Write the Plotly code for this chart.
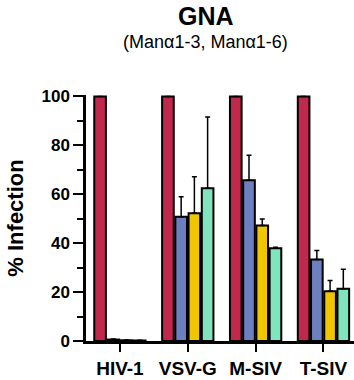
import plotly.graph_objects as go

categories = ["HIV-1", "VSV-G", "M-SIV", "T-SIV"]
series_names = ["S1", "S2", "S3", "S4"]
values = [
    [100, 100, 100, 100],
    [0.6, 50.8, 65.7, 33.3],
    [0.3, 52.2, 47.2, 20.3],
    [0.2, 62.5, 37.9, 21.4],
]
errors = [
    [0, 0, 0, 0],
    [0.2, 8.2, 10.3, 3.7],
    [0.1, 15.0, 2.7, 4.4],
    [0.1, 29.1, 0.4, 7.9],
]
colors = ["#C0284C", "#6C80C0", "#F0C600", "#80E4BE"]

FONT = "Liberation Sans, Arial, sans-serif"

fig = go.Figure()
for name, vals, errs, col in zip(series_names, values, errors, colors):
    fig.add_trace(go.Bar(
        x=categories, y=vals, name=name,
        marker=dict(color=col, line=dict(color="black", width=2)),
        error_y=dict(type="data", array=errs, arrayminus=[0] * len(errs),
                     symmetric=False, color="black", thickness=1.5, width=2.5,
                     visible=True),
    ))

fig.update_layout(
    width=354, height=380,
    margin=dict(l=86, r=0, t=95, b=39),
    barmode="group", bargap=0.22, bargroupgap=0.12,
    showlegend=False,
    plot_bgcolor="white", paper_bgcolor="white",
    font=dict(family=FONT, color="black"),
)
fig.update_xaxes(
    range=[-0.5, 3.45],
    showline=True, linecolor="black", linewidth=2.5,
    ticks="outside", ticklen=8, tickwidth=2, tickcolor="black",
    tickfont=dict(size=19, family=FONT, weight="bold"),
    showgrid=False, zeroline=False,
)
fig.update_yaxes(
    range=[0, 100.6],
    tickvals=[0, 20, 40, 60, 80, 100],
    showline=True, linecolor="black", linewidth=2.5,
    ticks="outside", ticklen=10, tickwidth=2, tickcolor="black",
    minor=dict(ticks="outside", ticklen=6, tickwidth=2, tickcolor="black", dtick=10, tick0=0),
    tickfont=dict(size=17, family=FONT, weight="bold"),
    title=dict(text="% Infection", font=dict(size=22, family=FONT, weight="bold"), standoff=12),
    showgrid=False, zeroline=False,
)
fig.add_annotation(text="<b>GNA</b>", xref="paper", yref="paper", x=(206 - 86) / 268, y=1 + (95 - 16) / 246,
                   xanchor="center", yanchor="middle", showarrow=False,
                   font=dict(size=25, family=FONT, color="black"))
fig.add_annotation(text="(Manα1-3, Manα1-6)", xref="paper", yref="paper", x=(205 - 86) / 268, y=1 + (95 - 42) / 246,
                   xanchor="center", yanchor="middle", showarrow=False,
                   font=dict(size=18, family=FONT, color="black"))

fig.write_html("out.html")
